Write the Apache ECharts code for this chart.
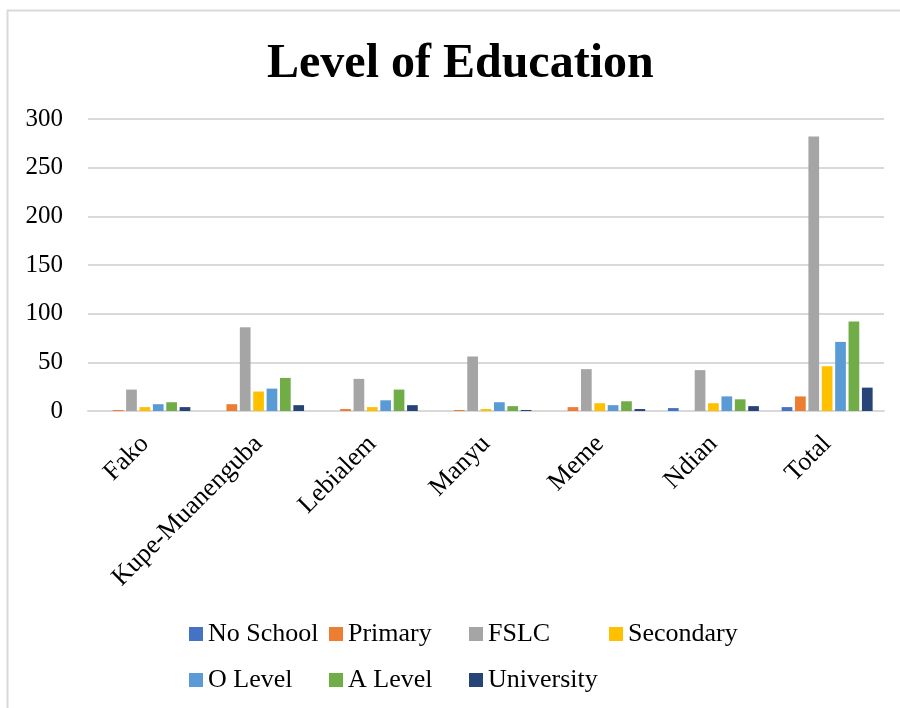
<!DOCTYPE html>
<html>
<head>
<meta charset="utf-8">
<script src="https://cdn.jsdelivr.net/npm/echarts@6/dist/echarts.min.js"></script>
<style>html,body{margin:0;padding:0;background:#fff;}#c{width:900px;height:708px;}</style>
</head>
<body>
<div id="c"></div>
<script>
const categories = ['Fako', 'Kupe-Muanenguba', 'Lebialem', 'Manyu', 'Meme', 'Ndian', 'Total'];
const noSchool   = [0, 0, 0, 0, 0, 3, 4];
const primary    = [1, 7, 2, 1, 4, 0, 15];
const fslc       = [22, 86, 33, 56, 43, 42, 282];
const secondary  = [4, 20, 4, 2, 8, 8, 46];
const oLevel     = [7, 23, 11, 9, 6, 15, 71];
const aLevel     = [9, 34, 22, 5, 10, 12, 92];
const university = [4, 6, 6, 1, 2, 5, 24];
const yTicks = [0, 50, 100, 150, 200, 250, 300];

const seriesNames = ['No School', 'Primary', 'FSLC', 'Secondary', 'O Level', 'A Level', 'University'];
const seriesData = [noSchool, primary, fslc, secondary, oLevel, aLevel, university];
const colors = ['#4472C4', '#ED7D31', '#A5A5A5', '#FFC000', '#5B9BD5', '#70AD47', '#264478'];

const FONT = '"Liberation Serif", "Times New Roman", serif';
const chart = echarts.init(document.getElementById('c'), null, {renderer: 'canvas'});

const legendBase = {
  orient: 'horizontal',
  padding: 0,
  itemWidth: 14,
  itemHeight: 14,
  itemGap: 0,
  icon: 'rect',
  selectedMode: false,
  textStyle: {fontFamily: FONT, fontSize: 26, color: '#000', width: 121, lineHeight: 26, padding: [0, 0, 0, 0]}
};

chart.setOption({
  animation: false,
  color: colors,
  graphic: [{
    type: 'rect', z: -10,
    shape: {x: 7.5, y: 10.5, width: 905, height: 710},
    style: {fill: 'none', stroke: '#d9d9d9', lineWidth: 2}
  }],
  title: {
    text: 'Level of Education',
    left: 267, top: 41, padding: 0,
    textStyle: {fontFamily: FONT, fontSize: 48, fontWeight: 'bold', color: '#000'}
  },
  legend: [
    Object.assign({}, legendBase, {left: 189, top: 621, data: seriesNames.slice(0, 4)}),
    Object.assign({}, legendBase, {left: 189, top: 667, data: seriesNames.slice(4)})
  ],
  grid: {left: 88, right: 16, top: 119, bottom: 297, containLabel: false},
  xAxis: {
    type: 'category',
    data: categories,
    axisTick: {show: false},
    axisLine: {lineStyle: {color: '#d9d9d9', width: 2}},
    axisLabel: {rotate: 45, margin: 29, fontFamily: FONT, fontSize: 26, color: '#000', interval: 0}
  },
  yAxis: {
    type: 'value',
    min: yTicks[0], max: yTicks[yTicks.length - 1], interval: 50,
    axisLine: {show: false},
    axisTick: {show: false},
    splitLine: {lineStyle: {color: '#d9d9d9', width: 2}},
    axisLabel: {margin: 25, fontFamily: FONT, fontSize: 25, color: '#000'}
  },
  series: seriesNames.map((n, i) => ({
    name: n,
    type: 'bar',
    data: seriesData[i],
    barGap: '25%',
    barCategoryGap: '20%',
    itemStyle: {color: colors[i]}
  }))
});
</script>
</body>
</html>
